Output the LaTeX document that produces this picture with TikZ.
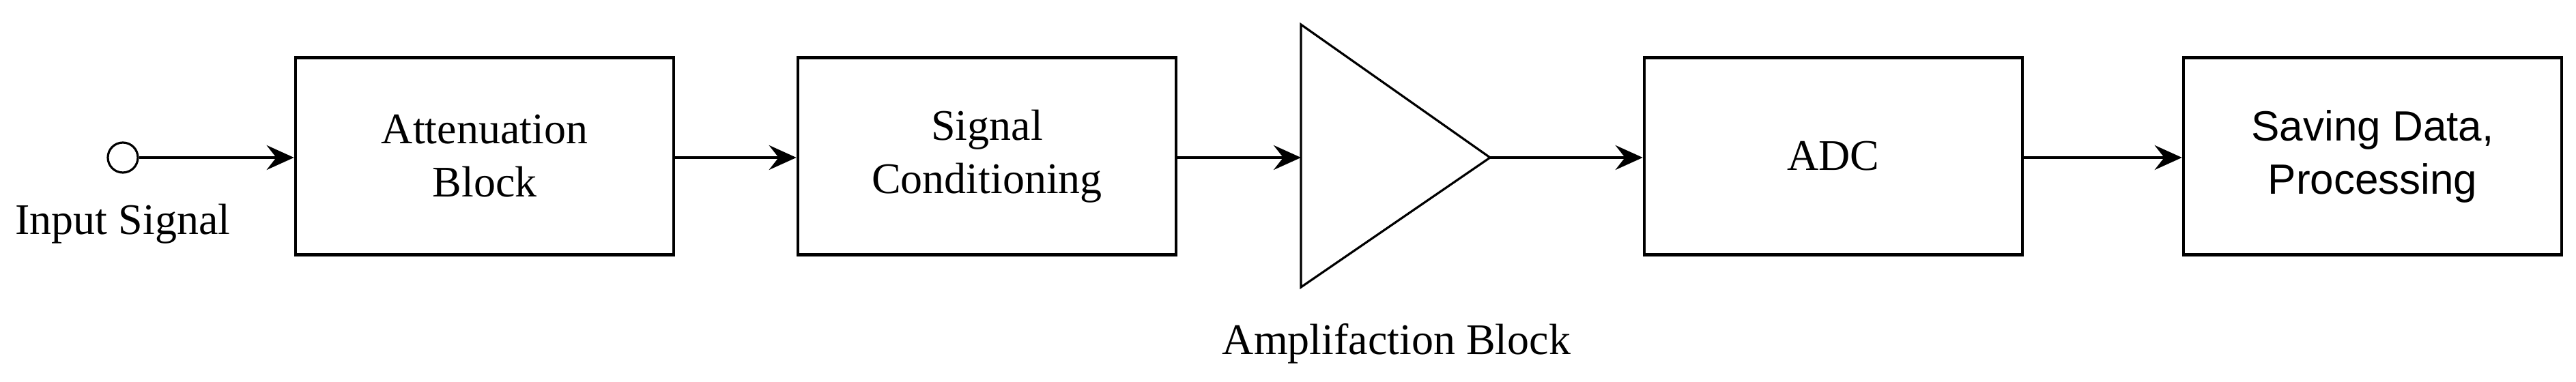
\documentclass[tikz,border=0pt]{standalone}
\usepackage{fontspec}
\setmainfont{Liberation Serif}
\newfontfamily\arialf{Liberation Sans}
\usetikzlibrary{arrows.meta}
\begin{document}
\begin{tikzpicture}[x=1pt,y=1pt,line width=2.3pt,
  blk/.style={draw,minimum width=277pt,minimum height=144.5pt,align=center,font=\fontsize{32}{39}\selectfont,inner sep=0pt},
  conn/.style={-{Stealth[length=20pt,width=18pt,inset=7pt]}},
  lbl/.style={font=\fontsize{32}{39}\selectfont,inner sep=0pt}]
\useasboundingbox (0,0) rectangle (1887,-280);
\node[draw,circle,minimum size=22pt,inner sep=0pt,line width=1.6pt] (in) at (90,-115.5) {};
\node[lbl] (inl) at (90,-164) {Input Signal};
\node[blk] (att) at (355,-114.5) {Attenuation\\Block};
\node[blk] (sc) at (723,-114.5) {Signal\\Conditioning};
\coordinate (ta) at (953,-18);
\coordinate (tb) at (953,-210.5);
\coordinate (tc) at (1091.5,-115.5);
\draw[line width=1.6pt,line join=miter] (ta) -- (tc) -- (tb) -- cycle;
\coordinate (tin) at (953,-115.5);
\node[lbl] (al) at (1023,-252) {Amplifaction Block};
\node[blk] (adc) at (1343,-114.5) {ADC};
\node[blk,font=\arialf\fontsize{31}{39}\selectfont] (sv) at (1738,-114.5) {Saving Data,\\Processing};
\draw[conn] (in) -- (att.west |- in);
\draw[conn] (att.east |- in) -- (sc.west |- in);
\draw[conn] (sc.east |- in) -- (tin);
\draw[conn] (tc) -- (adc.west |- tc);
\draw[conn] (adc.east |- in) -- (sv.west |- in);
\end{tikzpicture}
\end{document}
